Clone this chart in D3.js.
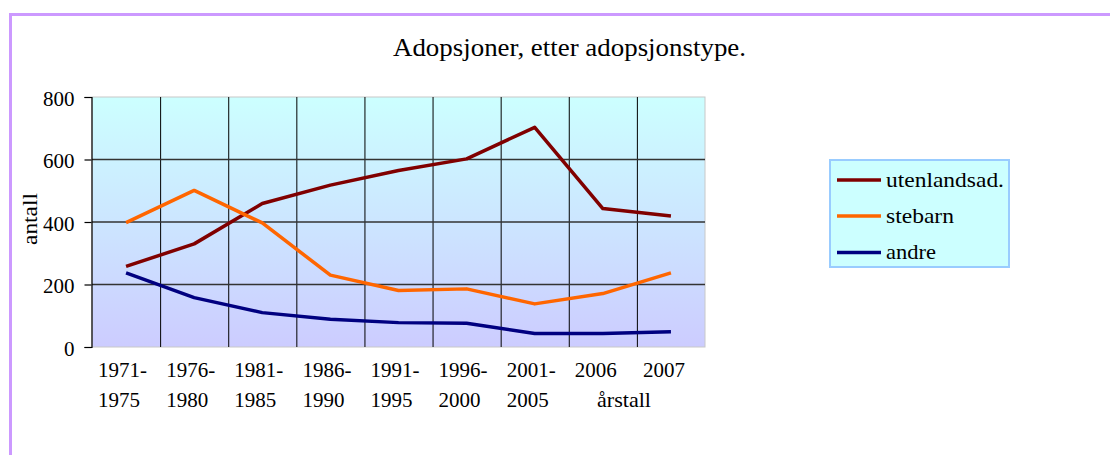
<!DOCTYPE html>
<html>
<head>
<meta charset="utf-8">
<script src="https://cdn.jsdelivr.net/npm/d3@7"></script>
<style>
  html, body { margin: 0; padding: 0; background: #ffffff; }
  svg { display: block; }
  text { font-family: "Liberation Serif", "Times New Roman", serif; fill: #000; }
</style>
</head>
<body>
<svg id="chart" width="1110" height="455"></svg>
<script>
// ---- data ----
const categories = ["1971-1975", "1976-1980", "1981-1985", "1986-1990", "1991-1995", "1996-2000", "2001-2005", "2006", "2007"];
const utenlandsad = [258, 330, 459, 518, 565, 602, 703, 443, 419];
const stebarn = [398, 501, 397, 230, 181, 186, 138, 171, 237];
const andre = [237, 158, 110, 89, 78, 76, 43, 43, 49];
const seriesNames = ["utenlandsad.", "stebarn", "andre"];
const seriesColors = ["#800000", "#ff6600", "#000080"];
const yTicks = [0, 200, 400, 600, 800];
const titleText = "Adopsjoner, etter adopsjonstype.";
const yTitle = "antall";
const xTitle = "årstall";

const FONT = "'Liberation Serif', 'Times New Roman', serif";
const svg = d3.select("#chart");

// outer border
svg.append("rect")
  .attr("x", 10.5).attr("y", 14.5)
  .attr("width", 1200).attr("height", 600)
  .attr("fill", "#ffffff")
  .attr("stroke", "#cc99ff").attr("stroke-width", 3);

const plot = { left: 92, right: 705, top: 97, bottom: 347 };

const x = d3.scaleBand().domain(categories).range([plot.left, plot.right]).padding(0);
const y = d3.scaleLinear().domain([0, 800]).range([plot.bottom, plot.top]);

// gradient background
const defs = svg.append("defs");
const grad = defs.append("linearGradient").attr("id", "bg").attr("x1", 0).attr("y1", 0).attr("x2", 0).attr("y2", 1);
grad.append("stop").attr("offset", "0%").attr("stop-color", "#ccffff");
grad.append("stop").attr("offset", "100%").attr("stop-color", "#ccccff");

svg.append("rect")
  .attr("x", plot.left).attr("y", plot.top)
  .attr("width", plot.right - plot.left).attr("height", plot.bottom - plot.top)
  .attr("fill", "url(#bg)");

// plot border (light gray)
svg.append("rect")
  .attr("x", plot.left).attr("y", plot.top)
  .attr("width", plot.right - plot.left).attr("height", plot.bottom - plot.top)
  .attr("fill", "none").attr("stroke", "#c8c8c8").attr("stroke-width", 1);

// vertical gridlines at category boundaries
const boundaries = categories.slice(1).map(c => x(c));
svg.append("g").selectAll("line").data(boundaries).join("line")
  .attr("x1", d => d + 0.5).attr("x2", d => d + 0.5)
  .attr("y1", plot.top).attr("y2", plot.bottom)
  .attr("stroke", "#000").attr("stroke-width", 1);

// horizontal gridlines
svg.append("g").selectAll("line").data(yTicks.filter(t => t > 0 && t < 800)).join("line")
  .attr("x1", plot.left).attr("x2", plot.right)
  .attr("y1", d => y(d)).attr("y2", d => y(d))
  .attr("stroke", "#333").attr("stroke-width", 1.4);

// y axis
const yAxis = d3.axisLeft(y).tickValues(yTicks).tickSize(7).tickPadding(10).tickFormat(d3.format("d"));
const gy = svg.append("g").attr("transform", `translate(${plot.left - 0.5},0)`).call(yAxis)
  .attr("font-family", FONT);
gy.select(".domain").attr("stroke", "#000").attr("stroke-width", 1.2);
gy.selectAll(".tick line").attr("stroke", "#000").attr("stroke-width", 1.2);
gy.selectAll(".tick text")
  .style("font-family", FONT)
  .style("font-size", "21px").attr("dy", "0.4em").attr("fill", "#000");

// x axis labels
const xl = svg.append("g");
categories.forEach(c => {
  const parts = c.includes("-") ? [c.split("-")[0] + "-", c.split("-")[1]] : [c];
  const x0 = x(c) + x.bandwidth() / 2 - 28;
  const t = xl.append("text")
    .attr("x", x0)
    .attr("y", 377)
    .style("font-family", FONT)
    .style("font-size", "21px");
  parts.forEach((p, i) => {
    t.append("tspan").attr("x", x0).attr("dy", i === 0 ? 0 : 30).text(p);
  });
});

// x axis title
svg.append("text")
  .attr("x", 597).attr("y", 407)
  .attr("textLength", 54).attr("lengthAdjust", "spacingAndGlyphs")
  .style("font-family", FONT)
  .style("font-size", "21px").text(xTitle);

// y axis title
svg.append("text")
  .attr("transform", "translate(37,219) rotate(-90)")
  .attr("text-anchor", "middle")
  .attr("textLength", 52).attr("lengthAdjust", "spacingAndGlyphs")
  .style("font-family", FONT)
  .style("font-size", "21px").text(yTitle);

// title
svg.append("text")
  .attr("x", 569.5).attr("y", 55.5)
  .attr("text-anchor", "middle")
  .attr("textLength", 353).attr("lengthAdjust", "spacingAndGlyphs")
  .style("font-family", FONT)
  .style("font-size", "26px").text(titleText);

// lines
const allSeries = [utenlandsad, stebarn, andre];
const line = d3.line()
  .x((d, i) => x(categories[i]) + x.bandwidth() / 2)
  .y(d => y(d));
allSeries.forEach((s, k) => {
  svg.append("path")
    .datum(s)
    .attr("d", line)
    .attr("fill", "none")
    .attr("stroke", seriesColors[k])
    .attr("stroke-width", 3.5)
    .attr("stroke-linejoin", "round");
});

// legend
const lg = svg.append("g");
lg.append("rect")
  .attr("x", 830).attr("y", 160)
  .attr("width", 179).attr("height", 107)
  .attr("fill", "#ccffff").attr("stroke", "#99ccff").attr("stroke-width", 2);
const legendY = [180, 216, 252.5];
const legendW = [118, 68, 50];
seriesNames.forEach((n, i) => {
  lg.append("line")
    .attr("x1", 837).attr("x2", 881)
    .attr("y1", legendY[i]).attr("y2", legendY[i])
    .attr("stroke", seriesColors[i]).attr("stroke-width", 3.5);
  lg.append("text")
    .attr("x", 886).attr("y", legendY[i] + 6.5)
    .attr("textLength", legendW[i]).attr("lengthAdjust", "spacingAndGlyphs")
    .style("font-family", FONT)
    .style("font-size", "21px").text(n);
});
</script>
</body>
</html>
